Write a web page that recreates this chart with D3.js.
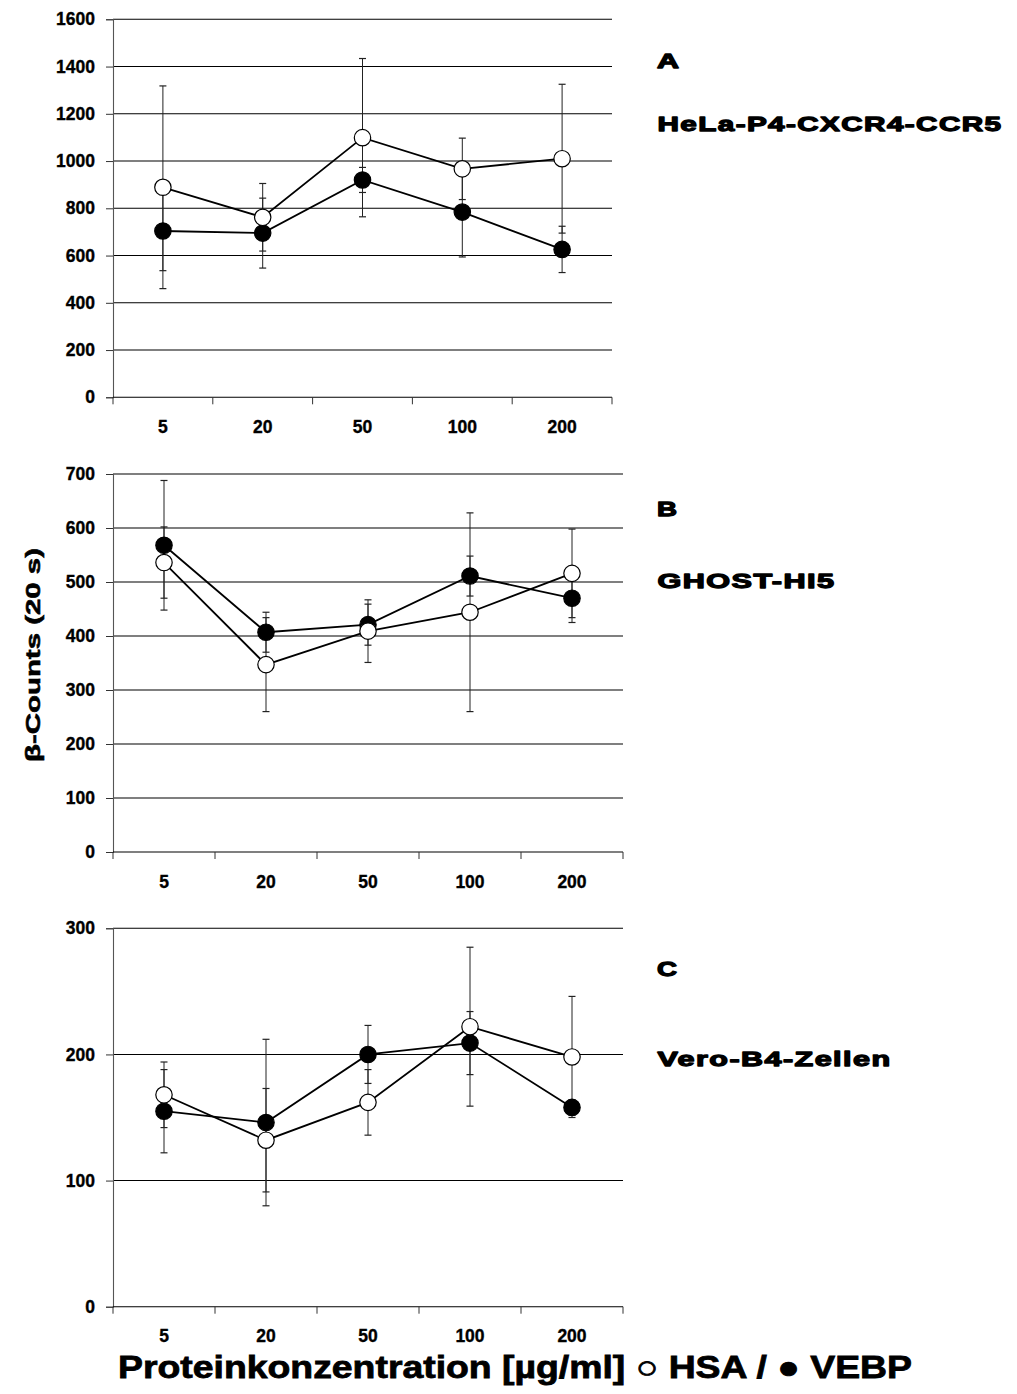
<!DOCTYPE html>
<html><head><meta charset="utf-8">
<script src="https://cdn.jsdelivr.net/npm/d3@7"></script>
<style>body{margin:0;background:#fff}svg{display:block}</style>
</head><body>
<script>
const categories = ["5","20","50","100","200"];
// Panel A: HeLa-P4-CXCR4-CCR5
const aHSA = [889, 762, 1099, 967, 1010];
const aHSAerr = [429, 143, 335, 130, 315];
const aVEBP = [704, 695, 920, 784, 626];
const aVEBPerr = [168, 148, 53, 190, 98];
const aTicks = [0,200,400,600,800,1000,1200,1400,1600];
// Panel B: GHOST-HI5
const bHSA = [536, 347, 409, 444, 516];
const bHSAerr = [66, 87, 58, 184, 82];
const bVEBP = [568, 407, 421, 511, 470];
const bVEBPerr = [120, 37, 38, 37, 45];
const bTicks = [0,100,200,300,400,500,600,700];
// Panel C: Vero-B4-Zellen
const cHSA = [168, 132, 162, 222, 198];
const cHSAerr = [26, 41, 26, 63, 48];
const cVEBP = [155, 146, 200, 209, 158];
const cVEBPerr = [33, 66, 23, 25, 6];
const cTicks = [0,100,200,300];
const panelLetters = ["A","B","C"];
const panelNames = ["HeLa-P4-CXCR4-CCR5","GHOST-HI5","Vero-B4-Zellen"];

const W = 1017, H = 1394;
const svg = d3.select("body").append("svg").attr("width", W).attr("height", H);
const FONT = "'Liberation Sans', Arial, sans-serif";
const BLACKFONT = "'Liberation Sans', Arial, sans-serif";

const panels = [
  {hsa:aHSA, hsaErr:aHSAerr, vebp:aVEBP, vebpErr:aVEBPerr, ticks:aTicks, x0:113, x1:612, yTop:19.3, yBot:397.3,
   letterY:62, nameY:125, nameLen:346, letterLen:23},
  {hsa:bHSA, hsaErr:bHSAerr, vebp:bVEBP, vebpErr:bVEBPerr, ticks:bTicks, x0:113, x1:623, yTop:474, yBot:852,
   letterY:510, nameY:582, nameLen:179, letterLen:21},
  {hsa:cHSA, hsaErr:cHSAerr, vebp:cVEBP, vebpErr:cVEBPerr, ticks:cTicks, x0:113, x1:623, yTop:928.3, yBot:1306.7,
   letterY:970, nameY:1060, nameLen:235, letterLen:21}
];

panels.forEach((p, i) => {
  const g = svg.append("g");
  const x = d3.scaleBand().domain(categories).range([p.x0, p.x1]).padding(0);
  const y = d3.scaleLinear().domain([0, d3.max(p.ticks)]).range([p.yBot, p.yTop]);
  const cx = c => x(c) + x.bandwidth()/2;

  // gridlines
  g.selectAll(".grid").data(p.ticks.filter(t => t > 0)).join("line")
    .attr("x1", p.x0).attr("x2", p.x1)
    .attr("y1", d => y(d)).attr("y2", d => y(d))
    .attr("stroke", "#000").attr("stroke-width", 1.1);

  // y axis
  const yAxis = d3.axisLeft(y).tickValues(p.ticks).tickSize(7).tickPadding(11).tickFormat(d3.format("d"));
  const ya = g.append("g").attr("transform", `translate(${p.x0},0)`).call(yAxis);
  ya.select(".domain").attr("stroke", "#555").attr("stroke-width", 1.1);
  ya.selectAll(".tick line").attr("stroke", "#333");
  ya.selectAll("text").attr("font-family", FONT).attr("font-weight", "bold").attr("font-size", 17.5)
    .attr("fill", "#000").attr("stroke", "#000").attr("stroke-width", 0.35);

  // x axis line with ticks at band boundaries
  g.append("line").attr("x1", p.x0).attr("x2", p.x1).attr("y1", p.yBot).attr("y2", p.yBot)
    .attr("stroke", "#000").attr("stroke-width", 1.1);
  const bounds = categories.map(c => x(c)).concat([p.x1]);
  g.selectAll(".xt").data(bounds).join("line")
    .attr("x1", d => d).attr("x2", d => d).attr("y1", p.yBot).attr("y2", p.yBot + 7)
    .attr("stroke", "#333").attr("stroke-width", 1);
  g.selectAll(".xl").data(categories).join("text")
    .attr("x", d => cx(d)).attr("y", p.yBot + 31)
    .attr("text-anchor", "middle").attr("dominant-baseline", "middle")
    .attr("font-family", FONT).attr("font-weight", "bold").attr("font-size", 17.5)
    .attr("stroke", "#000").attr("stroke-width", 0.35)
    .text(d => d);

  const series = [
    {vals:p.vebp, errs:p.vebpErr, fill:"#000"},
    {vals:p.hsa, errs:p.hsaErr, fill:"#fff"}
  ];
  // error bars
  series.forEach(s => {
    categories.forEach((c, k) => {
      const v = s.vals[k], e = s.errs[k];
      const xx = cx(c);
      g.append("line").attr("x1", xx).attr("x2", xx).attr("y1", y(v - e)).attr("y2", y(v + e))
        .attr("stroke", "#222").attr("stroke-width", 1);
      [v - e, v + e].forEach(t => {
        g.append("line").attr("x1", xx - 3.5).attr("x2", xx + 3.5).attr("y1", y(t)).attr("y2", y(t))
          .attr("stroke", "#222").attr("stroke-width", 1.2);
      });
    });
  });
  // lines
  const line = d3.line().x((d, k) => cx(categories[k])).y(d => y(d));
  series.forEach(s => {
    g.append("path").datum(s.vals).attr("d", line).attr("fill", "none")
      .attr("stroke", "#000").attr("stroke-width", 1.8);
  });
  // markers
  series.forEach(s => {
    g.selectAll(null).data(s.vals).join("circle")
      .attr("cx", (d, k) => cx(categories[k])).attr("cy", d => y(d)).attr("r", 8.2)
      .attr("fill", s.fill).attr("stroke", "#000").attr("stroke-width", 1.2);
  });

  // panel labels (heavy)
  svg.append("text").attr("x", 657).attr("y", p.letterY).attr("dominant-baseline", "middle")
    .attr("font-family", BLACKFONT).attr("font-weight", 900).attr("font-size", 21)
    .attr("stroke", "#000").attr("stroke-width", 1.3).attr("stroke-linejoin", "round")
    .attr("textLength", p.letterLen - 1).attr("lengthAdjust", "spacingAndGlyphs")
    .text(panelLetters[i]);
  svg.append("text").attr("x", 657.5).attr("y", p.nameY).attr("dominant-baseline", "middle")
    .attr("font-family", BLACKFONT).attr("font-weight", 900).attr("font-size", 21)
    .attr("stroke", "#000").attr("stroke-width", 1.3).attr("stroke-linejoin", "round")
    .attr("letter-spacing", 1)
    .attr("textLength", p.nameLen - 1).attr("lengthAdjust", "spacingAndGlyphs")
    .text(panelNames[i]);
});

// axis titles
svg.append("text")
  .attr("transform", "translate(34,655) rotate(-90)")
  .attr("text-anchor", "middle").attr("dominant-baseline", "middle")
  .attr("font-family", FONT).attr("font-weight", "bold").attr("font-size", 21)
  .attr("stroke", "#000").attr("stroke-width", 0.6)
  .attr("textLength", 214).attr("lengthAdjust", "spacingAndGlyphs")
  .text("β-Counts (20 s)");
svg.append("text")
  .attr("x", 118).attr("y", 1370).attr("dominant-baseline", "middle")
  .attr("font-family", FONT).attr("font-weight", "bold").attr("font-size", 32)
  .attr("stroke", "#000").attr("stroke-width", 0.8)
  .attr("textLength", 794).attr("lengthAdjust", "spacingAndGlyphs")
  .text("Proteinkonzentration [µg/ml] ○ HSA / ● VEBP");
</script>
</body></html>
